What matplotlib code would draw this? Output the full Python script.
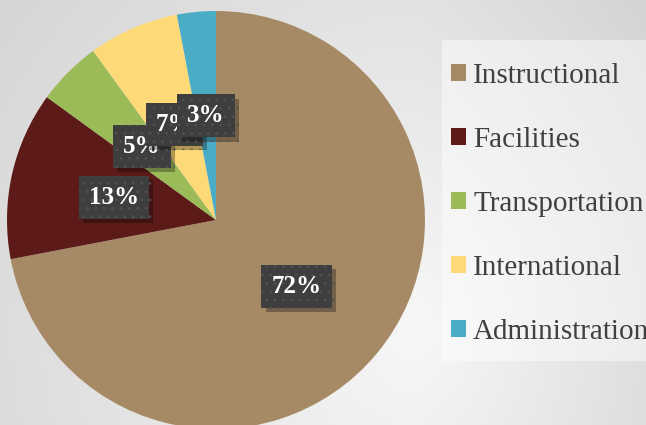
import numpy as np
import matplotlib.pyplot as plt
import matplotlib.patheffects as pe
from matplotlib.patches import Patch, Rectangle

# Settings
plt.rcParams['font.family'] = ['Liberation Serif', 'DejaVu Serif']
plt.rcParams['hatch.linewidth'] = 0.6

# Data
categories = ['Instructional', 'Facilities', 'Transportation', 'International', 'Administration']
shares = [72, 13, 5, 7, 3]
colors = ['#a68a65', '#5c1a19', '#9bbb59', '#fed978', '#4bacc6']

W, H = 646, 425
fig = plt.figure(figsize=(W / 100, H / 100), dpi=100)

##### Background gradient #####
bg = fig.add_axes([0, 0, 1, 1], zorder=-2)
yy, xx = np.mgrid[0:H, 0:W]
dist = np.hypot(xx - 420, yy - 330)
shade = 0.97 - 0.13 * np.clip(dist / 520, 0, 1) - 0.04 * np.clip((xx - 420) / 226, 0, 1)
bg.imshow(np.dstack([shade] * 3), aspect='auto', extent=(0, W, H, 0))
bg.set_xlim(0, W)
bg.set_ylim(H, 0)
bg.axis('off')

# light panel behind the legend
fig.patches.append(Rectangle((442 / W, 1 - 361 / H), 204 / W, 321 / H,
                             transform=fig.transFigure, facecolor='white',
                             alpha=0.45, edgecolor='none', zorder=-1))

##### Pie #####
cx, cy, r = 216, 220, 209
ax = fig.add_axes([(cx - r) / W, (H - cy - r) / H, 2 * r / W, 2 * r / H])
ax.set_facecolor('none')
wedges, _ = ax.pie(shares, colors=colors, startangle=90, counterclock=False,
                   radius=1, wedgeprops=dict(edgecolor='none'))
ax.set_xlim(-1, 1)
ax.set_ylim(-1, 1)
ax.axis('off')

# percentage labels in dark dotted boxes
total = sum(shares)
start = 90
for val in shares:
    ang = np.deg2rad(start - val / total * 180)
    start -= val / total * 360
    t = ax.text(0.5 * np.cos(ang), 0.5 * np.sin(ang), f'{val}%',
                ha='center', va='center', color='white', fontsize=18,
                fontweight='bold',
                bbox=dict(boxstyle='square,pad=0.4', facecolor='#3e3e3e',
                          edgecolor='#525252', hatch='..', linewidth=0))
    t.get_bbox_patch().set_path_effects([
        pe.withSimplePatchShadow(offset=(3, -3), shadow_rgbFace='black', alpha=0.3),
        pe.Normal()])

##### Legend #####
handles = [Patch(facecolor=c, edgecolor='none') for c in colors]
fig.legend(handles, categories, loc='upper left',
           bbox_to_anchor=(451 / W, 1 - 63 / H), frameon=False,
           fontsize=21, labelcolor='#404040', handlelength=0.52,
           handleheight=0.52, handletextpad=0.24, labelspacing=1.3,
           borderpad=0, borderaxespad=0)

plt.savefig('out.png', dpi=100)
